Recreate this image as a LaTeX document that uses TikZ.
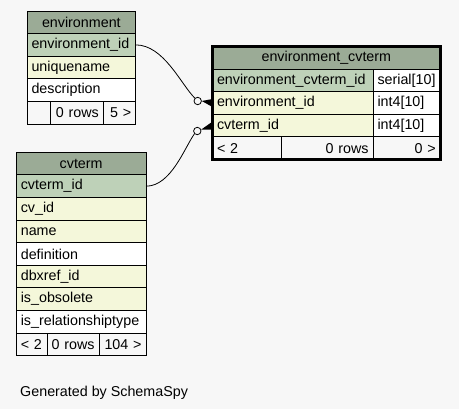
\documentclass[tikz,border=0pt]{standalone}
\usepackage{fontspec}
\setmainfont{Liberation Sans}
\definecolor{hdr}{HTML}{9BAB96}
\definecolor{pkcol}{HTML}{BED1B8}
\definecolor{idxcol}{HTML}{F4F7DA}
\definecolor{bgcol}{HTML}{F7F7F7}
\newcommand{\tblfont}{\fontsize{14.3}{17}\selectfont}
\usetikzlibrary{positioning}

\begin{document}
\begin{tikzpicture}[x=1pt, y=-1pt,
  cell/.style={draw, line width=0.8pt, outer sep=0pt, inner xsep=4.5pt, inner ysep=0pt, minimum height=22.6pt, anchor=north west, align=left, font=\tblfont},
  head/.style={cell, fill=hdr, align=center},
  pk/.style={cell, fill=pkcol},
  idx/.style={cell, fill=idxcol},
  plain/.style={cell, fill=white},
  foot/.style={cell, fill=bgcol},
  envw/.style={text width=99.7pt},
  cvw/.style={text width=120.7pt},
  ecw/.style={text width=151.5pt},
  typw/.style={text width=58.2pt},
  odot/.style={circle, draw, line width=0.8pt, fill=bgcol, inner sep=0pt, minimum size=7.4pt},
  rel/.style={line width=0.8pt}
]
  \fill[bgcol] (0,0) rectangle (459,409);
  \useasboundingbox (0,0) rectangle (459,409);

  % environment
  \node[head, envw] (envhead) at (27,11) {environment};
  \node[pk, envw, below=0pt of envhead] (envid) {environment\_id};
  \node[idx, envw, below=0pt of envid] (envuniq) {uniquename};
  \node[plain, envw, below=0pt of envuniq] (envdesc) {description};
  \node[foot, text width=14pt, below=0pt of envdesc.south west, anchor=north west] (envf1) {};
  \node[foot, text width=44.3pt, align=right, right=0pt of envf1] (envf2) {0 rows};
  \node[foot, text width=23.4pt, align=right, right=0pt of envf2] (envf3) {5 >};

  % cvterm
  \node[head, cvw] (cvhead) at (16.3,152.3) {cvterm};
  \node[pk, cvw, below=0pt of cvhead] (cvid) {cvterm\_id};
  \node[idx, cvw, below=0pt of cvid] (cvcv) {cv\_id};
  \node[idx, cvw, below=0pt of cvcv] (cvname) {name};
  \node[plain, cvw, below=0pt of cvname] (cvdef) {definition};
  \node[idx, cvw, below=0pt of cvdef] (cvdbx) {dbxref\_id};
  \node[idx, cvw, below=0pt of cvdbx] (cvobs) {is\_obsolete};
  \node[plain, cvw, below=0pt of cvobs] (cvrel) {is\_relationshiptype};
  \node[foot, text width=21.7pt, below=0pt of cvrel.south west, anchor=north west] (cvf1) {< 2};
  \node[foot, text width=43pt, align=right, right=0pt of cvf1] (cvf2) {0 rows};
  \node[foot, text width=38pt, align=right, right=0pt of cvf2] (cvf3) {104 >};

  % environment_cvterm
  \node[head, text width=218.7pt] (echead) at (212.5,46.5) {environment\_cvterm};
  \node[pk, ecw, below=0pt of echead.south west, anchor=north west] (ecid) {environment\_cvterm\_id};
  \node[plain, typw, right=0pt of ecid] (ecidt) {serial[10]};
  \node[idx, ecw, below=0pt of ecid] (ecenv) {environment\_id};
  \node[plain, typw, right=0pt of ecenv] (ecenvt) {int4[10]};
  \node[idx, ecw, below=0pt of ecenv] (eccv) {cvterm\_id};
  \node[plain, typw, right=0pt of eccv] (eccvt) {int4[10]};
  \node[foot, text width=59.5pt, below=0pt of eccv.south west, anchor=north west] (ecf1) {< 2};
  \node[foot, text width=83pt, align=right, right=0pt of ecf1] (ecf2) {0 rows};
  \node[foot, text width=58.2pt, align=right, right=0pt of ecf2] (ecf3) {0 >};

  % relationships
  \node[odot] (odot1) at (197.7,101) {};
  \node[odot] (odot2) at (197.3,131) {};
  \draw[rel] (envid.east) .. controls +(28,0) and +(-14,-14) .. (odot1.135);
  \draw[rel] (cvid.east) .. controls +(25,0) and +(-10,14) .. (odot2.225);
  \fill (odot1.east) -- ([yshift=4pt]ecenv.west) -- ([yshift=-4pt]ecenv.west) -- cycle;
  \fill (odot2.20) -- ([yshift=4pt]eccv.west) -- ([yshift=-4pt]eccv.west) -- cycle;
  \draw[line width=3pt] (echead.north west) rectangle (ecf3.south east);

  \node[font=\tblfont, anchor=base west] (gen) at (16.7,396.7) {Generated by SchemaSpy};
\end{tikzpicture}
\end{document}
